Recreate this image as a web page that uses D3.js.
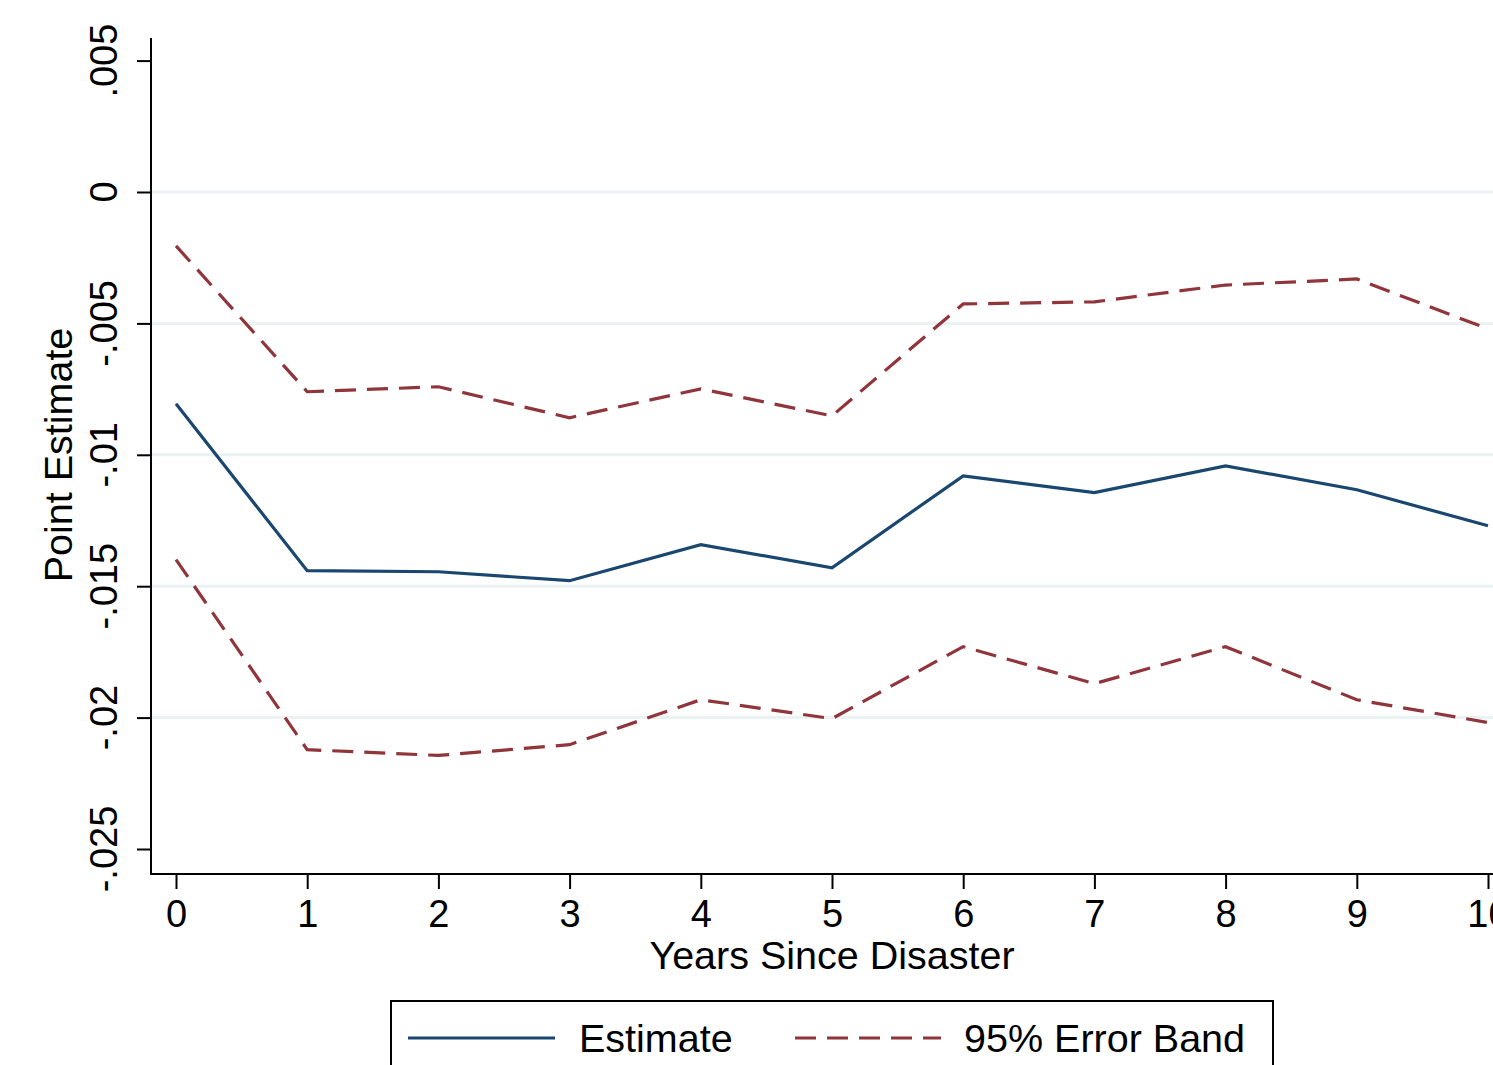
<!DOCTYPE html>
<html>
<head>
<meta charset="utf-8">
<script src="https://cdn.jsdelivr.net/npm/d3@7"></script>
<style>
  html, body { margin: 0; padding: 0; background: #fff; overflow: hidden; }
  svg { display: block; font-family: "Liberation Sans", Arial, sans-serif; }
</style>
</head>
<body>
<svg id="chart" width="1493" height="1065"></svg>
<script>
const years = [0, 1, 2, 3, 4, 5, 6, 7, 8, 9, 10];
const estimate = [-0.00806, -0.01441, -0.01445, -0.01479, -0.01342, -0.0143, -0.0108, -0.01144, -0.01042, -0.01133, -0.0127];
const upperBand = [-0.00205, -0.0076, -0.00741, -0.00859, -0.00749, -0.00852, -0.00426, -0.00418, -0.00354, -0.00331, -0.00521];
const lowerBand = [-0.01399, -0.02122, -0.02144, -0.02103, -0.01932, -0.02004, -0.0173, -0.01871, -0.0173, -0.01932, -0.02019];
const yTicks = [0.005, 0, -0.005, -0.01, -0.015, -0.02, -0.025];
const yTickLabels = [".005", "0", "-.005", "-.01", "-.015", "-.02", "-.025"];
const gridTicks = [0, -0.005, -0.01, -0.015, -0.02];
const seriesNames = ["Estimate", "95% Error Band"];

const navy = "#1a476f", maroon = "#90353b";
const svg = d3.select("#chart");

const x = d3.scaleLinear().domain([0, 10]).range([176, 1488]);
const y = d3.scaleLinear().domain([0, -0.025]).range([192, 849]);
const axisX = 151, axisY = 874, axisTop = 38;

// gridlines
svg.append("g").selectAll("line").data(gridTicks).join("line")
  .attr("x1", axisX).attr("x2", 1493)
  .attr("y1", d => y(d)).attr("y2", d => y(d))
  .attr("stroke", "#eaf2f3").attr("stroke-width", 3);

// lines
const line = d3.line().x((d, i) => x(years[i])).y(d => y(d));
svg.append("path").datum(upperBand).attr("d", line)
  .attr("fill", "none").attr("stroke", maroon).attr("stroke-width", 3.2)
  .attr("stroke-dasharray", "21,11");
svg.append("path").datum(lowerBand).attr("d", line)
  .attr("fill", "none").attr("stroke", maroon).attr("stroke-width", 3.2)
  .attr("stroke-dasharray", "21,11");
svg.append("path").datum(estimate).attr("d", line)
  .attr("fill", "none").attr("stroke", navy).attr("stroke-width", 3.2);

// Y axis
const yAxis = d3.axisLeft(y).tickValues(yTicks)
  .tickFormat((d, i) => yTickLabels[i]).tickSize(14).tickSizeOuter(0);
const gy = svg.append("g").attr("transform", `translate(${axisX},0)`).call(yAxis);
gy.select(".domain").remove();
gy.selectAll(".tick line").attr("stroke", "#000").attr("stroke-width", 2);
gy.selectAll(".tick text").remove();
svg.append("line").attr("x1", axisX).attr("x2", axisX).attr("y1", axisTop).attr("y2", axisY + 1)
  .attr("stroke", "#000").attr("stroke-width", 2);
svg.append("g").selectAll("text").data(yTicks).join("text")
  .attr("transform", (d) => `translate(117,${y(d)}) rotate(-90)`)
  .attr("text-anchor", "middle").attr("font-size", 38).attr("fill", "#000")
  .text((d, i) => yTickLabels[i]);

// X axis
const xAxis = d3.axisBottom(x).tickValues(years).tickFormat(d3.format("d")).tickSize(15).tickSizeOuter(0);
const gx = svg.append("g").attr("transform", `translate(0,${axisY})`).call(xAxis);
gx.select(".domain").remove();
gx.selectAll(".tick line").attr("stroke", "#000").attr("stroke-width", 2);
gx.selectAll(".tick text").attr("font-size", 38).attr("fill", "#000")
  .attr("font-family", "'Liberation Sans', Arial, sans-serif").attr("dy", null).attr("y", 53);
svg.append("line").attr("x1", axisX - 1).attr("x2", 1493).attr("y1", axisY).attr("y2", axisY)
  .attr("stroke", "#000").attr("stroke-width", 2);

// Titles
svg.append("text").attr("x", 832).attr("y", 969).attr("text-anchor", "middle")
  .attr("font-size", 39.5).attr("fill", "#000").text("Years Since Disaster");
svg.append("text").attr("transform", "translate(72,455) rotate(-90)").attr("text-anchor", "middle")
  .attr("font-size", 39.5).attr("fill", "#000").text("Point Estimate");

// Legend
const lg = svg.append("g");
lg.append("rect").attr("x", 391).attr("y", 1001).attr("width", 882).attr("height", 120)
  .attr("fill", "#fff").attr("stroke", "#000").attr("stroke-width", 2);
lg.append("line").attr("x1", 408).attr("x2", 555).attr("y1", 1038).attr("y2", 1038)
  .attr("stroke", navy).attr("stroke-width", 3.2);
lg.append("text").attr("x", 579).attr("y", 1052).attr("font-size", 39.5).attr("fill", "#000").text(seriesNames[0]);
lg.append("line").attr("x1", 795).attr("x2", 941).attr("y1", 1038).attr("y2", 1038)
  .attr("stroke", maroon).attr("stroke-width", 3.2).attr("stroke-dasharray", "21,11");
lg.append("text").attr("x", 964).attr("y", 1052).attr("font-size", 39.5).attr("fill", "#000").text(seriesNames[1]);
</script>
</body>
</html>
